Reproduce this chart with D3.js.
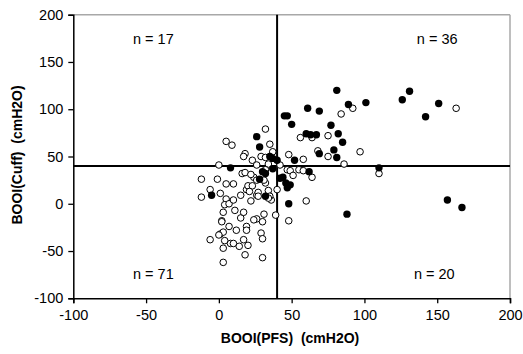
<!DOCTYPE html>
<html><head><meta charset="utf-8">
<script src="https://cdn.jsdelivr.net/npm/d3@7/dist/d3.min.js"></script>
<style>body{margin:0;background:#fff}svg{display:block}text{font-family:Arial,"Liberation Sans",sans-serif;white-space:pre}</style>
</head><body><svg id="c" width="523" height="354"></svg>
<script>
const filledX = [81,131,126,151,101,89,142,61,69,45,47,50,77,60,63,67,82,85,79,69,81,52,40,37,26,28,110,62,42,46,49,47,48,88,157,167,8,-5,32,28,30,37,32,44,35];
const filledY = [120,119,110,106,107,105,92,101,98,93,93,84,83,74,73,73,74,65,57,53,49,46,46,48,71,60,38,34,27,22,20,17,0,-11,4,-4,38,9,8,26,34,37,32,28,50];
const openX = [163,92,84,56,64,75,97,68,75,86,48,58,42,
  5,9,32,35,18,17,0,29,32,37,23,26,34,
  110,47,49,55,51,64,60,48,58,
  -12,-1,-6,-12,-6,5,10,1,5,4,7,10,3,2,2,7,1,3,4,3,3,8,10,11,12,14,15,15,17,19,19,17,20,18,19,20,22,16,18,24,23,26,27,26,27,29,30,30,31,30,32,32,34,36,35,40,39,22,26,31,21,34,0,24];
const openY = [101,101,95,70,70,72,55,56,50,42,52,47,41,
  66,62,79,63,53,50,41,50,49,55,46,41,42,
  32,36,35,36,30,28,3,-18,35,
  26,26,15,7,-38,21,21,11,5,-1,0,4,-9,-18,-19,-24,-32,-30,-39,-47,-62,-42,-42,-7,-28,-45,9,-15,-9,-24,-28,-38,-44,-54,15,19,3,32,33,28,19,9,12,-16,8,-31,-37,-19,-11,-57,22,36,14,4,8,15,-12,31,25,25,13,6,-33,-17];
const xTicks = [-100,-50,0,50,100,150,200];
const yTicks = [-100,-50,0,50,100,150,200];
const cutX = 40, cutY = 40;
const quadLabels = ["n = 17","n = 36","n = 71","n = 20"];
const quadPos = [[-45,174],[150,174],[-45,-74],[148,-74]];

const svg = d3.select("#c");
const L=73.3,R=510,T=14.7,B=298.3;
const x = d3.scaleLinear().domain([-100,200]).range([L,R]);
const y = d3.scaleLinear().domain([-100,200]).range([B,T]);

svg.append("line").attr("x1",L).attr("x2",R).attr("y1",T).attr("y2",T).attr("stroke","#a8a8a8").attr("stroke-width",1.5);
svg.append("line").attr("x1",R).attr("x2",R).attr("y1",T).attr("y2",B).attr("stroke","#a8a8a8").attr("stroke-width",1.5);

const fmt = d => String(d);
const xa = svg.append("g").attr("transform",`translate(0,${B})`).call(d3.axisBottom(x).tickValues(xTicks).tickSize(5).tickPadding(6).tickFormat(fmt));
const ya = svg.append("g").attr("transform",`translate(${L},0)`).call(d3.axisLeft(y).tickValues(yTicks).tickSize(5).tickPadding(5).tickFormat(fmt));
[xa,ya].forEach(a=>{a.select(".domain").attr("stroke","#000").attr("stroke-width",1.5);a.selectAll(".tick line").attr("stroke","#000").attr("stroke-width",1.3);a.selectAll("text").attr("font-size",14.5).attr("fill","#000").attr("font-family","Arial, 'Liberation Sans', sans-serif");});

svg.append("line").attr("x1",x(cutX)).attr("x2",x(cutX)).attr("y1",y(200)).attr("y2",y(-100)).attr("stroke","#000").attr("stroke-width",2);
svg.append("line").attr("x1",x(-100)).attr("x2",x(200)).attr("y1",y(cutY)).attr("y2",y(cutY)).attr("stroke","#000").attr("stroke-width",2);

const openPts = openX.map((v,i)=>[v,openY[i]]);
const filledPts = filledX.map((v,i)=>[v,filledY[i]]);
svg.append("g").selectAll("circle").data(openPts).join("circle").attr("cx",d=>x(d[0])).attr("cy",d=>y(d[1])).attr("r",3.3).attr("fill","#fff").attr("stroke","#000").attr("stroke-width",1);
svg.append("g").selectAll("circle").data(filledPts).join("circle").attr("cx",d=>x(d[0])).attr("cy",d=>y(d[1])).attr("r",3.7).attr("fill","#000");

svg.append("g").selectAll("text").data(quadLabels).join("text").attr("x",(d,i)=>x(quadPos[i][0])).attr("y",(d,i)=>y(quadPos[i][1])).attr("text-anchor","middle").attr("dominant-baseline","central").attr("font-size",14.5).text(d=>d);

svg.append("text").attr("x",290).attr("y",338).attr("text-anchor","middle").attr("dominant-baseline","central").attr("font-size",14).attr("font-weight","bold").text("BOOI(PFS)  (cmH2O)");
svg.append("text").attr("transform","translate(17,155) rotate(-90)").attr("text-anchor","middle").attr("dominant-baseline","central").attr("font-size",14).attr("font-weight","bold").text("BOOI(Cuff)  (cmH2O)");
</script></body></html>
